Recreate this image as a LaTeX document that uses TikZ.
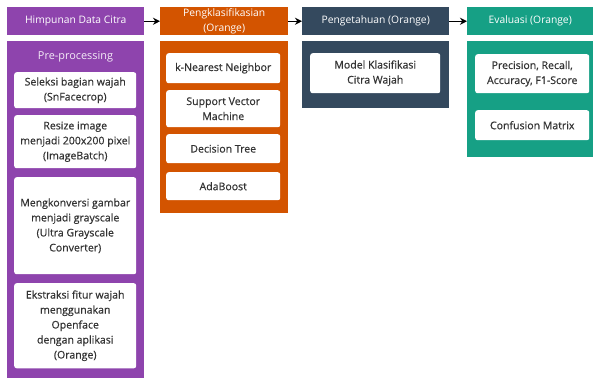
\documentclass[tikz,border=0pt]{standalone}
\usepackage{fontspec}
\setmainfont{Open Sans}
\newfontfamily\itemfont[FakeBold=0.5]{Open Sans}
\usetikzlibrary{positioning}
\usetikzlibrary{arrows.meta}
\definecolor{citrapurple}{HTML}{8E44AD}
\definecolor{klasorange}{HTML}{D35400}
\definecolor{modelnavy}{HTML}{34495E}
\definecolor{evalteal}{HTML}{16A085}
\tikzstyle{header} = [rectangle, anchor=north west, minimum height=0.84cm, inner sep=1pt, text=white, align=center, font=\fontsize{8.8}{11}\selectfont]
\tikzstyle{panel} = [rectangle, anchor=north west, inner sep=0pt]
\tikzstyle{item} = [rectangle, rounded corners=2pt, anchor=north west, fill=white, inner sep=1pt, text=black!80, align=center, font=\itemfont\fontsize{9}{12.8}\selectfont]
\tikzstyle{arrow} = [line width=1.2pt,-{Stealth[length=6pt,width=6pt]}]

\begin{document}
\begin{tikzpicture}[x=0.03cm, y=-0.03cm]
    \useasboundingbox (0,0) rectangle (593,378);

    % headers
    \node (himpunan) [header, fill=citrapurple, minimum width=4.11cm] at (7,7) {Himpunan Data Citra};
    \node (klasifikasi) [header, fill=klasorange, minimum width=3.84cm, inner sep=0pt] at (160,7) {Pengklasifikasian\\[2.5pt](Orange)};
    \node (pengetahuan) [header, fill=modelnavy, minimum width=4.41cm] at (302,7) {Pengetahuan (Orange)};
    \node (evaluasi) [header, fill=evalteal, minimum width=3.78cm] at (467,7) {Evaluasi (Orange)};

    % panels
    \node (prepanel) [panel, fill=citrapurple, minimum width=4.11cm, minimum height=10.11cm] at (7,41) {};
    \node (klaspanel) [panel, fill=klasorange, minimum width=3.84cm, minimum height=5.16cm] at (160,41) {};
    \node (modelpanel) [panel, fill=modelnavy, minimum width=4.41cm, minimum height=2.01cm] at (302,41) {};
    \node (evalpanel) [panel, fill=evalteal, minimum width=3.78cm, minimum height=3.48cm] at (467,41) {};

    \node (pretitle) [text=white!90!citrapurple, font=\fontsize{9.3}{11}\selectfont] at (75.5,57) {Pre-processing};

    % pre-processing steps
    \node (seleksi) [item, minimum width=3.66cm, minimum height=1.08cm] at (14,72) {Seleksi bagian wajah\\(SnFacecrop)};
    \node (resize) [item, minimum width=3.66cm, minimum height=1.59cm] at (14,115) {Resize image\\menjadi 200x200 pixel\\(ImageBatch)};
    \node (konversi) [item, minimum width=3.66cm, minimum height=2.91cm] at (14,177) {Mengkonversi gambar\\menjadi grayscale\\(Ultra Grayscale\\Converter)};
    \node (ekstraksi) [item, minimum width=3.66cm, minimum height=2.55cm] at (14,283) {Ekstraksi fitur wajah\\menggunakan\\Openface\\dengan aplikasi\\(Orange)};

    % classifiers
    \node (knn) [item, minimum width=3.42cm, minimum height=0.9cm] at (166,53) {k-Nearest Neighbor};
    \node (svm) [item, minimum width=3.42cm, minimum height=1.11cm] at (166,90) {Support Vector\\Machine};
    \node (dtree) [item, minimum width=3.42cm, minimum height=0.87cm] at (166,134) {Decision Tree};
    \node (adaboost) [item, minimum width=3.42cm, minimum height=0.84cm] at (166,172) {AdaBoost};

    \node (model) [item, minimum width=3.9cm, minimum height=1.2cm] at (310,53) {Model Klasifikasi\\Citra Wajah};

    \node (metrik) [item, minimum width=3.42cm, minimum height=1.17cm] at (475,54) {Precision, Recall,\\Accuracy, F1-Score};
    \node (confusion) [item, minimum width=3.42cm, minimum height=0.9cm] at (475,110) {Confusion Matrix};

    \draw [arrow] (himpunan) -- (klasifikasi);
    \draw [arrow] (klasifikasi) -- (pengetahuan);
    \draw [arrow] (pengetahuan) -- (evaluasi);

\end{tikzpicture}
\end{document}
